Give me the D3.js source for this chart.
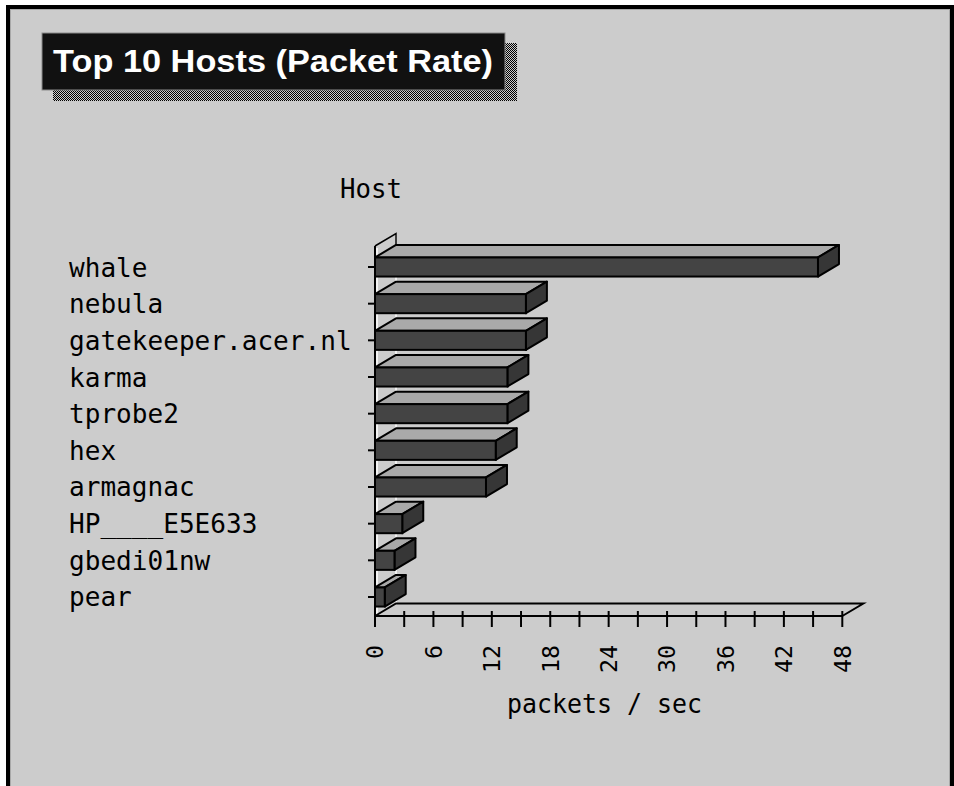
<!DOCTYPE html>
<html>
<head>
<meta charset="utf-8">
<script src="https://cdn.jsdelivr.net/npm/d3@7"></script>
<style>
  html, body { margin: 0; padding: 0; background: #ffffff; }
  svg { display: block; }
</style>
</head>
<body>
<svg id="chart" width="954" height="786"></svg>
<script>
// ---- data ----
const title = "Top 10 Hosts (Packet Rate)";
const hosts = ["whale", "nebula", "gatekeeper.acer.nl", "karma", "tprobe2", "hex", "armagnac", "HP____E5E633", "gbedi01nw", "pear"];
const rates = [45.5, 15.5, 15.5, 13.6, 13.6, 12.4, 11.4, 2.8, 2.0, 1.0];
const xTicks = [0, 3, 6, 9, 12, 15, 18, 21, 24, 27, 30, 33, 36, 39, 42, 45, 48];
const xTickLabels = ["0", "6", "12", "18", "24", "30", "36", "42", "48"];
const yTitle = "Host";
const xTitle = "packets / sec";

// ---- drawing ----
const svg = d3.select("#chart");
const mono = "'DejaVu Sans Mono', 'Liberation Mono', monospace";

// panel
svg.append("rect").attr("x", 8).attr("y", 7).attr("width", 944).attr("height", 800)
  .attr("fill", "#cccccc").attr("stroke", "#000").attr("stroke-width", 4);
svg.append("rect").attr("x", 10.5).attr("y", 9.5).attr("width", 939).attr("height", 800)
  .attr("fill", "none").attr("stroke", "#a8a8a8").attr("stroke-width", 1);

// checker pattern for title shadow
const defs = svg.append("defs");
const pat = defs.append("pattern").attr("id", "checker").attr("patternUnits", "userSpaceOnUse")
  .attr("width", 2).attr("height", 2);
pat.append("rect").attr("width", 2).attr("height", 2).attr("fill", "#cccccc");
pat.append("rect").attr("x", 0).attr("y", 0).attr("width", 1).attr("height", 1).attr("fill", "#000");
pat.append("rect").attr("x", 1).attr("y", 1).attr("width", 1).attr("height", 1).attr("fill", "#000");

// title box
svg.append("rect").attr("x", 53).attr("y", 43).attr("width", 464).attr("height", 58).attr("fill", "url(#checker)");
svg.append("rect").attr("x", 42).attr("y", 33).attr("width", 463).attr("height", 57)
  .attr("fill", "#111").attr("stroke", "#8a8a8a").attr("stroke-width", 1);
svg.append("text").attr("x", 53).attr("y", 72)
  .attr("font-family", "'Liberation Sans', Arial, sans-serif").attr("font-weight", "bold")
  .attr("font-size", 32).attr("fill", "#fff")
  .attr("textLength", 440).attr("lengthAdjust", "spacingAndGlyphs")
  .text(title);

// scales
const x = d3.scaleLinear().domain([0, 48]).range([375, 842.3]);
const y = d3.scaleBand().domain(hosts).range([248.67, 615.33]).paddingInner(0.48).paddingOuter(0.24);
const dx = 21, dy = -12.5;
const x0 = x(0);
const yBottom = 616;
const yTop = 246;

// back wall (left) outline
svg.append("path")
  .attr("d", `M${x0 + dx},${yTop + dy} L${x0 + dx},${yBottom + dy}`)
  .attr("stroke", "#ffffff").attr("stroke-width", 1.5).attr("fill", "none");
svg.append("path")
  .attr("d", `M${x0 + 2},${yTop + 2} L${x0 + 2},${yBottom}`)
  .attr("stroke", "#ffffff").attr("stroke-width", 1.5).attr("fill", "none");
svg.append("path")
  .attr("d", `M${x0},${yTop} L${x0 + dx},${yTop + dy} L${x0 + dx},${yTop + dy + 12}`)
  .attr("stroke", "#000").attr("stroke-width", 1.5).attr("fill", "none");

// floor lines
svg.append("path")
  .attr("d", `M${x0},${yBottom} L${x0 + dx},${yBottom + dy} L${x(48) + dx},${yBottom + dy} L${x(48)},${yBottom}`)
  .attr("stroke", "#000").attr("stroke-width", 2).attr("fill", "none");

// bars
const g = svg.append("g");
hosts.forEach((h, i) => {
  const v = rates[i];
  const xa = x(0), xb = x(v);
  const t = y(h), bh = y.bandwidth();
  const bar = g.append("g");
  // top face
  bar.append("path")
    .attr("d", `M${xa},${t} L${xa + dx},${t + dy} L${xb + dx},${t + dy} L${xb},${t} Z`)
    .attr("fill", "#a9a9a9").attr("stroke", "#000").attr("stroke-width", 2).attr("stroke-linejoin", "round");
  // side face
  bar.append("path")
    .attr("d", `M${xb},${t} L${xb + dx},${t + dy} L${xb + dx},${t + bh + dy} L${xb},${t + bh} Z`)
    .attr("fill", "#363636").attr("stroke", "#000").attr("stroke-width", 2).attr("stroke-linejoin", "round");
  // front face
  bar.append("rect")
    .attr("x", xa).attr("y", t).attr("width", xb - xa).attr("height", bh)
    .attr("fill", "#444444").attr("stroke", "#000").attr("stroke-width", 2);
});

// y axis
svg.append("line").attr("x1", x0).attr("x2", x0).attr("y1", yTop).attr("y2", 627)
  .attr("stroke", "#000").attr("stroke-width", 2);
hosts.forEach(h => {
  const cy = y(h) + y.bandwidth() / 2;
  svg.append("line").attr("x1", 368).attr("x2", x0).attr("y1", cy).attr("y2", cy)
    .attr("stroke", "#000").attr("stroke-width", 2);
  svg.append("text").attr("x", 69).attr("y", cy + 9.5)
    .attr("font-family", mono).attr("font-size", 27).attr("fill", "#000")
    .attr("textLength", h.length * 15.7).attr("lengthAdjust", "spacingAndGlyphs")
    .text(h);
});

// x axis
svg.append("line").attr("x1", x0).attr("x2", x(48)).attr("y1", yBottom).attr("y2", yBottom)
  .attr("stroke", "#000").attr("stroke-width", 2);
xTicks.forEach(v => {
  svg.append("line").attr("x1", x(v)).attr("x2", x(v)).attr("y1", 611).attr("y2", 627)
    .attr("stroke", "#000").attr("stroke-width", 2);
});
xTickLabels.forEach(s => {
  const v = +s;
  svg.append("text")
    .attr("transform", `translate(${x(v)},645) rotate(-90)`)
    .attr("text-anchor", "end").attr("dy", "0.36em")
    .attr("font-family", mono).attr("font-size", 23).attr("fill", "#000")
    .attr("textLength", s.length * 14).attr("lengthAdjust", "spacingAndGlyphs")
    .text(s);
});

// axis titles
svg.append("text").attr("x", 340).attr("y", 198)
  .attr("font-family", mono).attr("font-size", 27).attr("fill", "#000")
  .attr("textLength", 62).attr("lengthAdjust", "spacingAndGlyphs")
  .text(yTitle);
svg.append("text").attr("x", 507).attr("y", 713)
  .attr("font-family", mono).attr("font-size", 27).attr("fill", "#000")
  .attr("textLength", 195).attr("lengthAdjust", "spacingAndGlyphs")
  .text(xTitle);
</script>
</body>
</html>
